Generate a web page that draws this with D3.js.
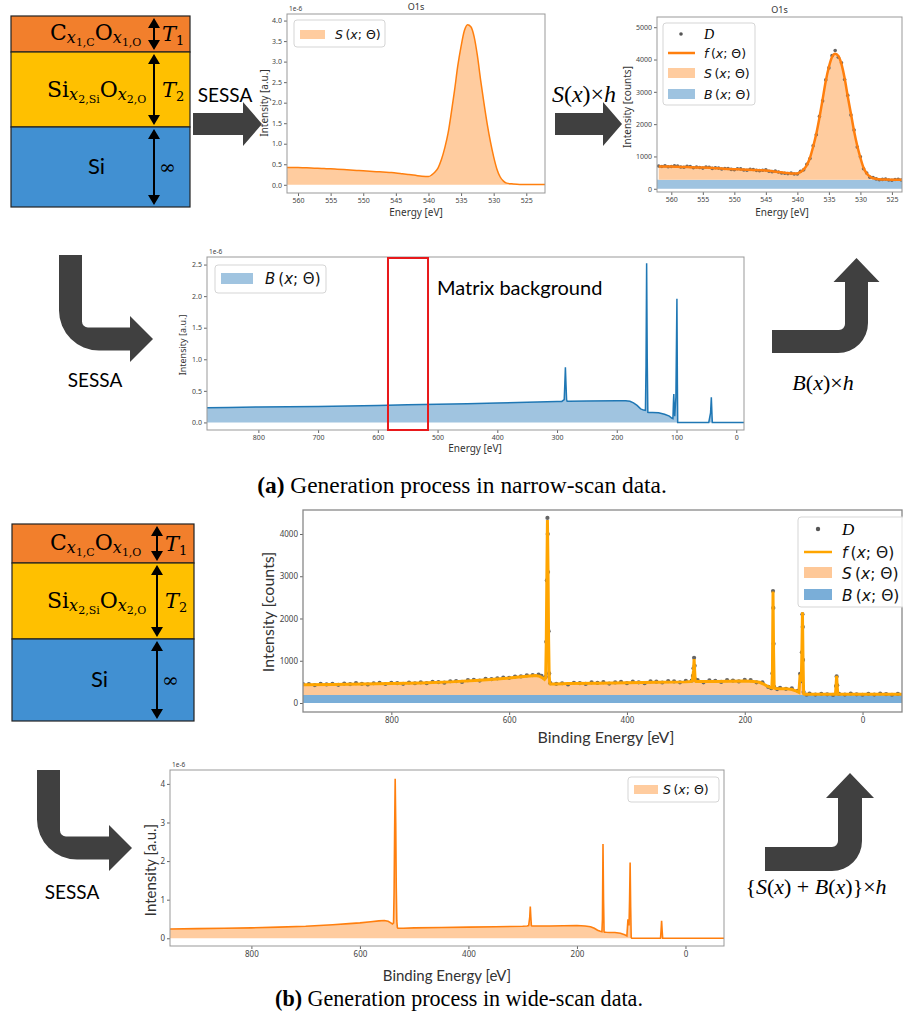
<!DOCTYPE html>
<html><head><meta charset="utf-8">
<script src="https://cdn.jsdelivr.net/npm/d3@7"></script>
<style>body{margin:0;background:#fff}svg{display:block}</style>
</head><body><script>
// ---------------- DATA ----------------
// Narrow scan O1s: simulated signal S (a.u., x1e-6)
const narrowE = [562,561,560,559,558,557,556,555,554,553,552,551,550,549,548,547,546,545,544,543,542,541,540,539.5,539,538.5,538,537.5,537,536.5,536,535.5,535,534.5,534,533.5,533,532.5,532,531.5,531,530.5,530,529.5,529,528.5,528,527,526,525,524,523,522];
const narrowS = [.42,.42,.42,.415,.41,.40,.395,.39,.38,.37,.36,.35,.34,.33,.32,.31,.30,.29,.27,.25,.23,.21,.20,.24,.31,.42,.62,.90,1.25,1.75,2.30,2.90,3.37,3.75,3.90,3.85,3.61,3.15,2.55,2.00,1.49,1.05,.68,.38,.19,.09,.04,.02,.01,.01,.01,.01,.01];
// Narrow scan fitted model f (counts)
const narrowF = [690,688,688,680,675,668,662,657,648,636,625,615,606,598,590,580,572,565,545,520,495,470,475,520,600,730,960,1300,1700,2200,2760,3330,3770,4080,4180,4110,3860,3420,2850,2320,1780,1330,960,650,470,380,330,295,285,280,280,280,280];
const narrowBCount = 280;
// Narrow scan measured data D (counts)
const narrowDataE = [562,561.5,561,560.5,560,559.5,559,558.5,558,557.5,557,556.5,556,555.5,555,554.5,554,553.5,553,552.5,552,551.5,551,550.5,550,549.5,549,548.5,548,547.5,547,546.5,546,545.5,545,544.5,544,543.5,543,542.5,542,541.5,541,540.5,540,539.5,539,538.5,538,537.5,537,536.5,536,535.5,535,534.5,534,533.5,533,532.5,532,531.5,531,530.5,530,529.5,529,528.5,528,527.5,527,526.5,526,525.5,525,524.5,524,523.5,523,522.5,522];
const narrowDataCounts = [705,690,712,680,690,708,702,672,668,695,690,650,675,660,640,672,668,630,650,640,612,625,628,600,590,618,615,580,575,600,596,570,560,575,585,540,530,545,520,490,480,470,485,455,455,540,585,760,935,1330,1670,2240,2720,3370,3740,4120,4280,4070,3900,3380,2890,2280,1820,1290,990,620,490,360,345,305,280,290,300,270,265,285,295,272,270,280,290];
// Matrix background B (a.u., x1e-6)
const midE = [886,850,800,750,700,650,600,550,500,450,400,350,300,292,288,287,286,285,284,283,280,250,200,185,178,172,166,160,155,152,151,150,149,148,146,140,130,120,112,108,106,105,104.5,104,103,101,100,99.3,98.5,98,90,60,46,43,41.7,40.5,40,20,0,-13];
const midB = [0.233,0.238,0.244,0.249,0.254,0.262,0.27,0.278,0.286,0.296,0.307,0.318,0.33,0.332,0.36,0.6,0.875,0.6,0.36,0.335,0.335,0.34,0.345,0.345,0.335,0.31,0.27,0.215,0.195,0.19,0.9,2.52,1.0,0.16,0.158,0.156,0.154,0.13,0.1,0.07,0.06,0.35,0.45,0.25,0.1,0.4,1.3,1.96,0.6,0,0,0,0,0.15,0.40,0.1,0,0,0,0];
const matrixWindow = [583, 516];
// Wide scan: signal S (a.u., x1e-6) and model f (counts)
const wideE = [950,900,850,800,750,700,650,620,600,580,565,555,548,543,540,538,537,536,535,534,533,532,531,530,520,500,450,400,350,300,292,289,287,286,285,284,283,280,250,200,185,175,168,162,157,154,153,152,151,150,149,146,140,130,120,112,108,106,105,104,103,102,101,100,99,90,70,50,46,45,44,43,42,40,20,0,-40,-72];
const wideS = [.24,.25,.26,.27,.29,.31,.35,.38,.40,.43,.45,.46,.44,.40,.37,.40,1.2,2.8,4.13,3.0,1.3,.45,.28,.26,.26,.27,.28,.29,.30,.31,.32,.33,.55,.82,.55,.33,.32,.32,.32,.33,.32,.30,.26,.21,.18,.17,.5,2.44,1.0,.17,.16,.155,.15,.15,.13,.09,.06,.49,.35,.35,1.0,1.96,.8,.02,0,0,0,0,0,.2,.45,.2,0,0,0,0,0,0];
const wideF = [430,440,450,460,475,500,540,570,590,620,640,650,630,590,560,600,1400,3000,4330,3200,1500,640,470,450,450,460,470,480,490,500,510,520,760,1040,760,520,510,510,510,520,510,490,450,400,370,360,700,2640,1200,360,350,345,340,340,320,280,250,680,540,540,1200,2150,1000,220,210,210,210,210,210,400,640,400,210,210,210,210,210,210];
const wideBCount = 190;
const wideDataE = [950,940,930,920,910,900,890,880,870,860,850,840,830,820,810,800,790,780,770,760,750,740,730,720,710,700,690,680,670,660,650,640,630,620,610,600,590,580,570,560,550,545,540,538,537,536,535,534.5,534,533,532,530,520,510,500,490,480,470,460,450,440,430,420,410,400,390,380,370,360,350,340,330,320,310,300,290,288,287,286,285,284,280,270,260,250,240,230,220,210,200,190,180,170,160,155,153,152,151.5,151,150,145,140,130,120,110,106,104,103,102,101.5,101,100,95,90,80,70,60,50,45,44,43,40,30,20,10,0,-10,-20,-30,-40,-50,-60];
const wideDataCounts = [445,450,425,452,440,455,430,460,448,470,455,440,468,475,450,478,470,455,485,468,490,470,502,495,480,515,520,500,540,545,530,572,565,585,600,595,625,630,655,660,670,640,590,620,1450,2900,4380,4000,3100,1700,700,470,455,468,440,478,470,452,490,475,492,460,488,498,470,505,490,470,512,505,485,520,510,490,525,530,640,820,1070,880,560,540,490,535,525,500,540,530,510,545,540,490,490,380,350,700,2650,2250,1400,380,330,360,335,345,290,690,520,1200,2100,1800,1020,260,195,225,200,218,205,190,400,630,420,215,200,222,205,195,218,200,225,208,195,215];
// Tick labels
const narrowXTicks = [560,555,550,545,540,535,530,525];
const aUnitTicks = [0,0.5,1.0,1.5,2.0,2.5,3.0,3.5,4.0];
const countTicks = [0,1000,2000,3000,4000,5000];
const midXTicks = [800,700,600,500,400,300,200,100,0];
const midYTicks = [0,0.5,1.0,1.5,2.0,2.5];
const wideXTicks = [800,600,400,200,0];
const wideYTicksCounts = [0,1000,2000,3000,4000];
const wideYTicksAU = [0,1,2,3,4];

// ---------------- SETUP ----------------
const svg = d3.select("body").append("svg").attr("width",903).attr("height",1021);
const defs = svg.append("defs");
const SANS = "'Noto Sans', 'DejaVu Sans', sans-serif";
const CAL = "Lato, 'Open Sans', sans-serif";
const MATH = "'DejaVu Sans', sans-serif";
const SERIF = "'DejaVu Serif', serif";
const TSERIF = "'Liberation Serif', serif";
const ORANGE = "#ff7f0e", ORANGE_FILL = "#ffcc9f", BLUE = "#1f77b4", BLUE_FILL = "#a0c4e0";
const DARK = "#404040";
let clipN = 0;

function rich(g, x, y, segs, opts={}) {
  const t = g.append("text").attr("x", x).attr("y", y).attr("text-anchor", opts.anchor||"start")
    .attr("fill", opts.fill||"#000");
  let cur = 0;
  segs.forEach(s => {
    const sh = s.sh||0;
    t.append("tspan").attr("dy", sh-cur).text(s.t)
      .style("font-family", s.f||opts.f||SERIF).style("font-size", (s.s||opts.s||16)+"px")
      .style("font-style", s.it?"italic":"normal").style("font-weight", s.b?"bold":"normal");
    cur = sh;
  });
  return t;
}

function makeChart(cfg) {
  const x = d3.scaleLinear().domain(cfg.xDomain).range([cfg.x, cfg.x+cfg.w]);
  const y = d3.scaleLinear().domain(cfg.yDomain).range([cfg.y+cfg.h, cfg.y]);
  const id = "clip"+(clipN++);
  defs.append("clipPath").attr("id", id).append("rect").attr("x",cfg.x).attr("y",cfg.y).attr("width",cfg.w).attr("height",cfg.h);
  const g = svg.append("g");
  const plot = g.append("g").attr("clip-path", `url(#${id})`);
  const gx = g.append("g").attr("transform",`translate(0,${cfg.y+cfg.h})`)
    .call(d3.axisBottom(x).tickValues(cfg.xTicks).tickSize(3).tickPadding(2).tickFormat(d3.format("d")));
  const gy = g.append("g").attr("transform",`translate(${cfg.x},0)`)
    .call(d3.axisLeft(y).tickValues(cfg.yTicks).tickSize(3).tickPadding(2).tickFormat(d3.format(cfg.yFmt||"d")));
  [gx,gy].forEach(a => {
    a.select(".domain").remove();
    a.selectAll("line").attr("stroke","#666");
    a.selectAll("text").attr("fill","#444").style("font-size",cfg.tick+"px").style("font-family",SANS);
  });
  g.append("rect").attr("x",cfg.x).attr("y",cfg.y).attr("width",cfg.w).attr("height",cfg.h)
    .attr("fill","none").attr("stroke",cfg.frame||"#999").attr("stroke-width",cfg.frameW||1);
  if (cfg.title) g.append("text").attr("x",cfg.x+cfg.w/2).attr("y",cfg.y-4).attr("text-anchor","middle")
    .style("font-family",SANS).style("font-size","9px").attr("fill","#333").text(cfg.title);
  if (cfg.offset) g.append("text").attr("x",cfg.x+2).attr("y",cfg.y-3).style("font-family",SANS)
    .style("font-size","6.5px").attr("fill","#444").text(cfg.offset);
  g.append("text").attr("transform",`translate(${cfg.yl[0]},${cfg.yl[1]}) rotate(-90)`).attr("text-anchor","middle")
    .attr("dominant-baseline","middle").style("font-family",cfg.lf||SANS).style("font-size",cfg.yl[2]+"px").attr("fill","#333").text(cfg.ylabel);
  g.append("text").attr("x",cfg.xl[0]).attr("y",cfg.xl[1]).attr("text-anchor","middle")
    .attr("dominant-baseline","middle").style("font-family",cfg.lf||SANS).style("font-size",cfg.xl[2]+"px").attr("fill","#333").text(cfg.xlabel);
  return {x, y, g, plot};
}

function mathLabel(g, x, y, letter, size, color) {
  const segs = [{t:letter,it:true},{t:"\u2009("},{t:"x",it:true},{t:"; Θ)"}];
  return rich(g, x, y, segs.map(s=>Object.assign({f:MATH,s:size},s)), {fill:color||"#111"});
}

function legendBox(g, x, y, w, h) {
  g.append("rect").attr("x",x).attr("y",y).attr("width",w).attr("height",h).attr("rx",3)
    .attr("fill","#fff").attr("fill-opacity",0.85).attr("stroke","#d5d5d5");
}

// ---------------- LAYER STACKS ----------------
function dblArrow(g, x, y0, y1) {
  const hw = 6, hl = 11;
  g.append("line").attr("x1",x).attr("x2",x).attr("y1",y0+hl-1).attr("y2",y1-hl+1).attr("stroke","#000").attr("stroke-width",2);
  g.append("path").attr("d",`M${x},${y0+1}L${x-hw},${y0+hl}L${x+hw},${y0+hl}Z`).attr("fill","#000");
  g.append("path").attr("d",`M${x},${y1-1}L${x-hw},${y1-hl}L${x+hw},${y1-hl}Z`).attr("fill","#000");
}
function layerStack(c) {
  const g = svg.append("g");
  const cols = ["#f27f2c","#ffc000","#4190d2"];
  for (let i=0;i<3;i++) g.append("rect").attr("x",c.x0).attr("y",c.ys[i]).attr("width",c.x1-c.x0)
      .attr("height",c.ys[i+1]-c.ys[i]).attr("fill",cols[i]).attr("stroke","#222").attr("stroke-width",1.2);
  for (let i=0;i<3;i++) dblArrow(g, c.ax, c.ys[i]+1, c.ys[i+1]-1);
  const m1 = (c.ys[0]+c.ys[1])/2, m2 = (c.ys[1]+c.ys[2])/2, m3 = (c.ys[2]+c.ys[3])/2;
  rich(g, c.tx, m1+6, [{t:"C",s:22},{t:"x",s:16,it:1,sh:3},{t:"1,C",s:11,sh:6},{t:"O",s:22},{t:"x",s:16,it:1,sh:3},{t:"1,O",s:11,sh:6}]);
  rich(g, c.tx-3, m2+7, [{t:"Si",s:22},{t:"x",s:16,it:1,sh:3},{t:"2,Si",s:11,sh:6},{t:"O",s:22},{t:"x",s:16,it:1,sh:3},{t:"2,O",s:11,sh:6}]);
  rich(g, c.ax+8, m1+7, [{t:"T",s:21,it:1},{t:"1",s:13,sh:4}]);
  rich(g, c.ax+8, m2+7, [{t:"T",s:21,it:1},{t:"2",s:13,sh:4}]);
  g.append("text").attr("x",c.six).attr("y",m3+7).style("font-family",CAL).style("font-size","22px").text("Si");
  g.append("text").attr("x",c.ax+5).attr("y",m3+7).style("font-family",SERIF).style("font-size","20px").text("∞");
}
layerStack({x0:11, x1:190, ys:[16,52,127,207], ax:154, tx:50, six:88});
layerStack({x0:12, x1:194, ys:[524,563,639,721], ax:157, tx:50, six:91});

// ---------------- ARROWS ----------------
function rightArrow(x0, xb, xt, yc, w, hh) {
  svg.append("path").attr("fill",DARK).attr("d",
    `M${x0},${yc-w/2}L${xb},${yc-w/2}L${xb},${yc-hh}L${xt},${yc}L${xb},${yc+hh}L${xb},${yc+w/2}L${x0},${yc+w/2}Z`);
}
function downRight(x0, w, yTop, yMid, xTip, hh, hl, R, r) {
  const yb = yMid+w/2, yt = yMid-w/2, xb = xTip-hl;
  svg.append("path").attr("fill",DARK).attr("d",
    `M${x0},${yTop}L${x0},${yb-R}A${R},${R} 0 0 0 ${x0+R},${yb}L${xb},${yb}L${xb},${yMid+hh}L${xTip},${yMid}L${xb},${yMid-hh}L${xb},${yt}L${x0+w+r},${yt}A${r},${r} 0 0 1 ${x0+w},${yt-r}L${x0+w},${yTop}Z`);
}
function rightUp(xL, yH1, yH2, xv, w, yHB, hh, yTip, R, r) {
  const xc = xv + w/2;
  svg.append("path").attr("fill",DARK).attr("d",
    `M${xL},${yH1}L${xv-r},${yH1}A${r},${r} 0 0 0 ${xv},${yH1-r}L${xv},${yHB}L${xc-hh},${yHB}L${xc},${yTip}L${xc+hh},${yHB}L${xv+w},${yHB}L${xv+w},${yH2-R}A${R},${R} 0 0 1 ${xv+w-R},${yH2}L${xL},${yH2}Z`);
}
rightArrow(193, 243, 262, 124, 22, 22);
rightArrow(555, 603, 622, 124, 22, 22);
downRight(59, 23, 255, 339, 153, 23, 23, 40, 6);
downRight(37, 23, 770, 848, 132, 23, 23, 40, 6);
rightUp(772, 330, 353, 845, 23, 282, 23, 258, 30, 6);
rightUp(765, 847, 871, 838, 24, 798, 24, 773, 30, 6);

function sessa(x, y) {
  svg.append("text").attr("x",x).attr("y",y).attr("text-anchor","middle").attr("dominant-baseline","middle")
    .style("font-family",CAL).style("font-size","19px").text("SESSA");
}
sessa(225, 97); sessa(95, 382); sessa(72, 894);

const M = TSERIF;
rich(svg, 584, 102, [{t:"S",it:1},{t:"("},{t:"x",it:1},{t:")×"},{t:"h",it:1}], {anchor:"middle", s:24, f:M});
rich(svg, 823, 390, [{t:"B",it:1},{t:"("},{t:"x",it:1},{t:")×"},{t:"h",it:1}], {anchor:"middle", s:22, f:M});
rich(svg, 816, 894, [{t:"{"},{t:"S",it:1},{t:"("},{t:"x",it:1},{t:") + "},{t:"B",it:1},{t:"("},{t:"x",it:1},{t:")}×"},{t:"h",it:1}], {anchor:"middle", s:22, f:M});

// ---------------- CHART A1: narrow S ----------------
{
  const c = makeChart({x:287,y:14,w:258,h:179,xDomain:[561.69,522.13],yDomain:[-0.2,4.16],xTicks:narrowXTicks,yTicks:aUnitTicks,
    yFmt:".1f",tick:7,title:"O1s",offset:"1e-6",ylabel:"Intensity [a.u.]",yl:[265,103,10],xlabel:"Energy [eV]",xl:[416,213,10]});
  const pts = narrowE.map((e,i)=>[e,narrowS[i]]);
  c.plot.append("path").datum(pts).attr("fill",ORANGE_FILL)
    .attr("d", d3.area().x(d=>c.x(d[0])).y0(c.y(0)).y1(d=>c.y(d[1])).curve(d3.curveMonotoneX));
  c.plot.append("path").datum(pts).attr("fill","none").attr("stroke",ORANGE).attr("stroke-width",1.5)
    .attr("d", d3.line().x(d=>c.x(d[0])).y(d=>c.y(d[1])).curve(d3.curveMonotoneX));
  legendBox(c.g, 294, 20, 91, 27);
  c.g.append("rect").attr("x",300).attr("y",30).attr("width",25).attr("height",9).attr("fill",ORANGE_FILL);
  mathLabel(c.g, 335, 39, "S", 12.5);
}

// ---------------- CHART A2: narrow counts ----------------
{
  const c = makeChart({x:657,y:17,w:245,h:175,xDomain:[562.27,523.4],yDomain:[-100,5316],xTicks:narrowXTicks,yTicks:countTicks,
    tick:7,title:"O1s",ylabel:"Intensity [counts]",yl:[628,107,10],xlabel:"Energy [eV]",xl:[782,213,10]});
  c.plot.append("rect").attr("x",c.x(562.27)).attr("width",245).attr("y",c.y(narrowBCount)).attr("height",c.y(0)-c.y(narrowBCount)).attr("fill","#9ec3e0");
  const pts = narrowE.map((e,i)=>[e,narrowF[i]]);
  c.plot.append("path").datum(pts).attr("fill",ORANGE_FILL)
    .attr("d", d3.area().x(d=>c.x(d[0])).y0(c.y(narrowBCount)).y1(d=>c.y(d[1])).curve(d3.curveMonotoneX));
  c.plot.selectAll("circle.d").data(narrowDataE.map((e,i)=>[e,narrowDataCounts[i]])).join("circle")
    .attr("cx",d=>c.x(d[0])).attr("cy",d=>c.y(d[1])).attr("r",1.8).attr("fill","#666");
  c.plot.append("path").datum(pts).attr("fill","none").attr("stroke",ORANGE).attr("stroke-width",2.5)
    .attr("d", d3.line().x(d=>c.x(d[0])).y(d=>c.y(d[1])).curve(d3.curveMonotoneX));
  legendBox(c.g, 663, 23, 92, 82);
  c.g.append("circle").attr("cx",681).attr("cy",34).attr("r",1.8).attr("fill","#555");
  c.g.append("text").attr("x",704).attr("y",39).style("font-family",TSERIF).style("font-style","italic").style("font-size","14px").text("D");
  c.g.append("line").attr("x1",668).attr("x2",695).attr("y1",53).attr("y2",53).attr("stroke",ORANGE).attr("stroke-width",2.5);
  mathLabel(c.g, 704, 58, "f", 12.5);
  c.g.append("rect").attr("x",668).attr("y",68).attr("width",27).attr("height",10).attr("fill",ORANGE_FILL);
  mathLabel(c.g, 704, 78, "S", 12.5);
  c.g.append("rect").attr("x",668).attr("y",89).attr("width",27).attr("height",10).attr("fill","#9ec3e0");
  mathLabel(c.g, 704, 99, "B", 12.5);
}

// ---------------- CHART A3: matrix background ----------------
{
  const c = makeChart({x:207,y:257,w:537,h:173,xDomain:[886,-13],yDomain:[-0.12,2.62],xTicks:midXTicks,yTicks:midYTicks,
    yFmt:".1f",tick:7,offset:"1e-6",ylabel:"Intensity [a.u.]",yl:[184,345,9],xlabel:"Energy [eV]",xl:[475,449,10]});
  const pts = midE.map((e,i)=>[e,midB[i]]);
  c.plot.append("path").datum(pts).attr("fill",BLUE_FILL)
    .attr("d", d3.area().x(d=>c.x(d[0])).y0(c.y(0)).y1(d=>c.y(d[1])));
  c.plot.append("path").datum(pts).attr("fill","none").attr("stroke",BLUE).attr("stroke-width",1.5)
    .attr("d", d3.line().x(d=>c.x(d[0])).y(d=>c.y(d[1])));
  legendBox(c.g, 215, 265, 111, 28);
  c.g.append("rect").attr("x",221).attr("y",273).attr("width",32).attr("height",11).attr("fill",BLUE_FILL);
  mathLabel(c.g, 265, 284, "B", 15);
  c.g.append("rect").attr("x",c.x(matrixWindow[0])).attr("y",258).attr("width",c.x(matrixWindow[1])-c.x(matrixWindow[0]))
    .attr("height",172).attr("fill","none").attr("stroke","#e8191b").attr("stroke-width",2);
  c.g.append("text").attr("x",437).attr("y",295).style("font-family",CAL).style("font-size","20px").text("Matrix background");
}

// ---------------- CHART B1: wide counts ----------------
{
  const c = makeChart({x:303,y:510,w:599,h:202,xDomain:[950,-67],yDomain:[-213,4568],xTicks:wideXTicks,yTicks:wideYTicksCounts,
    tick:8,frame:"#888",frameW:1.3,ylabel:"Intensity [counts]",yl:[270,612,16],xlabel:"Binding Energy [eV]",xl:[606,739,16],lf:CAL});
  c.plot.append("rect").attr("x",303).attr("width",599).attr("y",c.y(wideBCount)).attr("height",c.y(0)-c.y(wideBCount)).attr("fill","#7aaed8");
  const pts = wideE.map((e,i)=>[e,wideF[i]]);
  c.plot.append("path").datum(pts).attr("fill","#fec898")
    .attr("d", d3.area().x(d=>c.x(d[0])).y0(c.y(wideBCount)).y1(d=>c.y(d[1])));
  c.plot.selectAll("circle.d").data(wideDataE.map((e,i)=>[e,wideDataCounts[i]])).join("circle")
    .attr("cx",d=>c.x(d[0])).attr("cy",d=>c.y(d[1])).attr("r",2.1).attr("fill","#666");
  c.plot.append("path").datum(pts).attr("fill","none").attr("stroke","#ffa500").attr("stroke-width",3)
    .attr("d", d3.line().x(d=>c.x(d[0])).y(d=>c.y(d[1])));
  legendBox(c.g, 798, 517, 108, 90);
  c.g.append("circle").attr("cx",818).attr("cy",529).attr("r",2.2).attr("fill","#555");
  c.g.append("text").attr("x",842).attr("y",535).style("font-family",TSERIF).style("font-style","italic").style("font-size","17px").text("D");
  c.g.append("line").attr("x1",804).attr("x2",832).attr("y1",552).attr("y2",552).attr("stroke","#ffa500").attr("stroke-width",2.5);
  mathLabel(c.g, 842, 558, "f", 15.5);
  c.g.append("rect").attr("x",804).attr("y",567).attr("width",28).attr("height",11).attr("fill","#fec898");
  mathLabel(c.g, 842, 579, "S", 15.5);
  c.g.append("rect").attr("x",804).attr("y",589).attr("width",28).attr("height",11).attr("fill","#7aaed8");
  mathLabel(c.g, 842, 601, "B", 15.5);
}

// ---------------- CHART B2: wide S ----------------
{
  const c = makeChart({x:170,y:770,w:554,h:176,xDomain:[950,-71],yDomain:[-0.2,4.36],xTicks:wideXTicks,yTicks:wideYTicksAU,
    tick:8,offset:"1e-6",ylabel:"Intensity [a.u.]",yl:[152,870,15],xlabel:"Binding Energy [eV]",xl:[447,977,15],lf:CAL});
  const pts = wideE.map((e,i)=>[e,wideS[i]]);
  c.plot.append("path").datum(pts).attr("fill",ORANGE_FILL)
    .attr("d", d3.area().x(d=>c.x(d[0])).y0(c.y(0)).y1(d=>c.y(d[1])));
  c.plot.append("path").datum(pts).attr("fill","none").attr("stroke",ORANGE).attr("stroke-width",1.6)
    .attr("d", d3.line().x(d=>c.x(d[0])).y(d=>c.y(d[1])));
  legendBox(c.g, 628, 777, 91, 25);
  c.g.append("rect").attr("x",634).attr("y",785).attr("width",24).attr("height",9).attr("fill",ORANGE_FILL);
  mathLabel(c.g, 663, 794, "S", 12.5);
}

// ---------------- CAPTIONS ----------------
function caption(cx, y, tag, text, width) {
  const t = rich(svg, cx, y, [{t:tag,b:1},{t:"  "+text}], {anchor:"middle", s:18, f:TSERIF});
  const w = t.node().getComputedTextLength();
  const s = 18*width/w;
  t.selectAll("tspan").style("font-size", s+"px");
}
caption(462, 493, "(a)", "Generation process in narrow-scan data.", 410);
caption(459, 1006, "(b)", "Generation process in wide-scan data.", 368);
</script></body></html>
